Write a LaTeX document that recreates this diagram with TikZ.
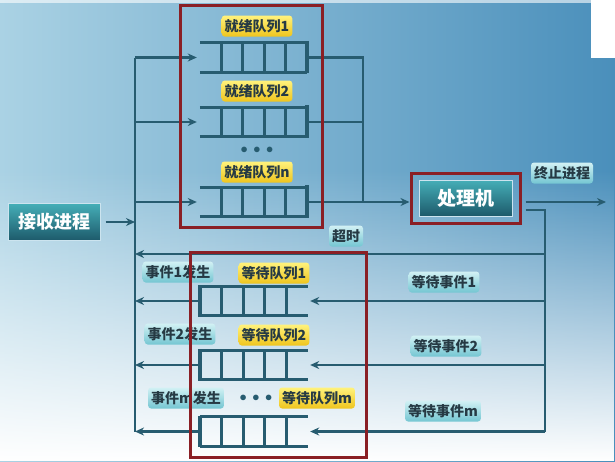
\documentclass[tikz,border=0pt]{standalone}
\usepackage{fontspec}
\setmainfont{Noto Sans CJK SC}
\usetikzlibrary{arrows.meta, calc, fadings, positioning}
\definecolor{pqLine}{HTML}{275C70}
\definecolor{pqRed}{HTML}{8A1F25}
\definecolor{pqSkyL}{HTML}{AAD2E4}
\definecolor{pqSkyR}{HTML}{4A8FBB}
\definecolor{pqTealT}{HTML}{45AEB7}
\definecolor{pqTealB}{HTML}{1D5A6B}
\definecolor{pqCyanT}{HTML}{D2F1F4}
\definecolor{pqCyanB}{HTML}{74C6D2}
\definecolor{pqGoldT}{HTML}{FFF27C}
\definecolor{pqGoldB}{HTML}{EFC51E}
\definecolor{pqInk}{HTML}{263A44}
\tikzfading[name=fadebottom, top color=transparent!100, bottom color=transparent!0]
\tikzset{
  flow/.style       = {pqLine, line width=2.8pt},
  flowarrow/.style  = {flow, -{Stealth[length=9pt, width=8pt]}},
  qline/.style      = {pqLine, line width=2.8pt},
  qend/.style       = {pqLine, line width=3.6pt},
  queue/.style      = {minimum width=107pt, minimum height=29pt, inner sep=0pt},
  frame/.style      = {pqRed, line width=3pt},
  bigbox/.style     = {draw=pqSkyL!60!white, line width=1pt, top color=pqTealT,
                       bottom color=pqTealB, text=white,
                       font=\fontsize{18}{18}\selectfont\bfseries},
  qlbl/.style       = {rounded corners=3pt, top color=pqGoldT, bottom color=pqGoldB,
                       text=pqInk, font=\fontsize{14}{14}\selectfont\bfseries,
                       inner xsep=3pt, minimum height=21pt},
  evlbl/.style      = {rounded corners=3pt, top color=pqCyanT, bottom color=pqCyanB,
                       text=pqInk, font=\fontsize{14}{14}\selectfont\bfseries,
                       inner xsep=3pt, minimum height=21pt},
  dots/.style       = {text=pqLine, font=\fontsize{14}{14}\selectfont},
}

\begin{document}
\begin{tikzpicture}[x=1pt, y=-1pt]
  \useasboundingbox (0,0) rectangle (615,461);
  % background
  \shade[left color=pqSkyL, right color=pqSkyR] (0,0) rectangle (615,461);
  \fill[white, path fading=fadebottom] (0,170) rectangle (615,461);
  \fill[white, opacity=0.6] (0,0) rectangle (615,3);
  \fill[white] (591,0) rectangle (615,58);

  \node[bigbox, minimum width=92pt, minimum height=37pt] (recv) at (54,222) {接收进程};
  \coordinate (busTop) at (135,57.5);
  \coordinate (busBot) at (135,431.5);

  % ready queues
  \foreach \nm/\y in {rq1/57.5, rq2/122, rqn/202} {
    \node[queue] (\nm) at (253.5,\y) {};
    \draw[qline] (\nm.north west) -- (\nm.north east) (\nm.south west) -- (\nm.south east);
    \draw[qend] ($(\nm.north east)+(0,-2)$) -- ($(\nm.south east)+(0,1)$);
    \foreach \f in {0.2,0.4,0.6,0.8}
      \draw[qline] ($(\nm.north west)!\f!(\nm.north east)$) -- ($(\nm.south west)!\f!(\nm.south east)$);
  }
  \node[qlbl] (rl1) at (257,26) {就绪队列1};
  \node[qlbl] (rl2) at (257,91) {就绪队列2};
  \node[dots] (rdots) at (257,150) {$\bullet\,\bullet\,\bullet$};
  \node[qlbl] (rln) at (257,172) {就绪队列n};

  % waiting queues
  \foreach \nm/\y in {wq1/301, wq2/365, wqm/431.5} {
    \node[queue, minimum width=108pt] (\nm) at (254,\y) {};
    \draw[qline] (\nm.north west) -- (\nm.north east) (\nm.south west) -- (\nm.south east);
    \draw[qend] ($(\nm.north west)+(0,-1)$) -- ($(\nm.south west)+(0,1)$);
    \foreach \f in {0.2,0.4,0.6,0.8}
      \draw[qline] ($(\nm.north west)!\f!(\nm.north east)$) -- ($(\nm.south west)!\f!(\nm.south east)$);
  }

  % processor
  \node[draw=pqRed, line width=3pt, minimum width=109pt, minimum height=50pt] (procframe) at (465.5,198) {};
  \node[bigbox, minimum width=93pt, minimum height=36pt,
        font=\fontsize{19}{19}\selectfont\bfseries] (proc) at (procframe.center) {处理机};
  \node[evlbl] (stop) at (562,173) {终止进程};

  \coordinate (merge) at (363,202);
  \coordinate (exit) at (606,202);
  \coordinate (loopTop) at (545,210);
  \coordinate (loopBot) at (545,431.5);
  \coordinate (tout) at (545,254);

  \draw[flow] (busTop) -- (busBot);
  \draw[flowarrow] ($(recv.east)+(5,0)$) -- (recv.east -| busTop);
  \foreach \nm in {rq1,rq2,rqn}
    \draw[flowarrow] (\nm.west -| busTop) -- ($(\nm.west)+(-3,0)$);
  \draw[flow] (rq1.east) -| (merge);
  \draw[flow] (rq2.east) -- (rq2.east -| merge);
  \draw[flowarrow] (rqn.east) -- (rqn.east -| procframe.west);
  \draw[flowarrow] ($(procframe.east |- exit)+(4,0)$) -- (exit);
  \draw[flow] ($(procframe.east |- loopTop)+(4,0)$) -- (loopTop) -- (loopBot);
  \draw[flowarrow] (tout) -- (tout -| busTop);
  \node[evlbl] (toutlbl) at (346,236) {超时};
  \foreach \nm in {wq1,wq2,wqm} {
    \draw[flowarrow] (\nm.east -| loopTop) -- ($(\nm.east)+(2,0)$);
    \draw[flowarrow] (\nm.west) -- (\nm.west -| busTop);
  }

  \node[evlbl] (ev1) at (178,272) {事件1发生};
  \node[qlbl] (wl1) at (274,273) {等待队列1};
  \node[evlbl] (ev2) at (180,334) {事件2发生};
  \node[qlbl] (wl2) at (274,335) {等待队列2};
  \node[evlbl] (evm) at (186,398) {事件m发生};
  \node[dots] (wdots) at (256,398) {$\bullet\,\bullet\,\bullet$};
  \node[qlbl] (wlm) at (317,398) {等待队列m};
  \node[evlbl] (we1) at (444,282) {等待事件1};
  \node[evlbl] (we2) at (446,346) {等待事件2};
  \node[evlbl] (wem) at (443,411) {等待事件m};

  \draw[frame] (180,5) rectangle (322,227);
  \draw[frame] (190,252) rectangle (366,457);
\end{tikzpicture}
\end{document}
